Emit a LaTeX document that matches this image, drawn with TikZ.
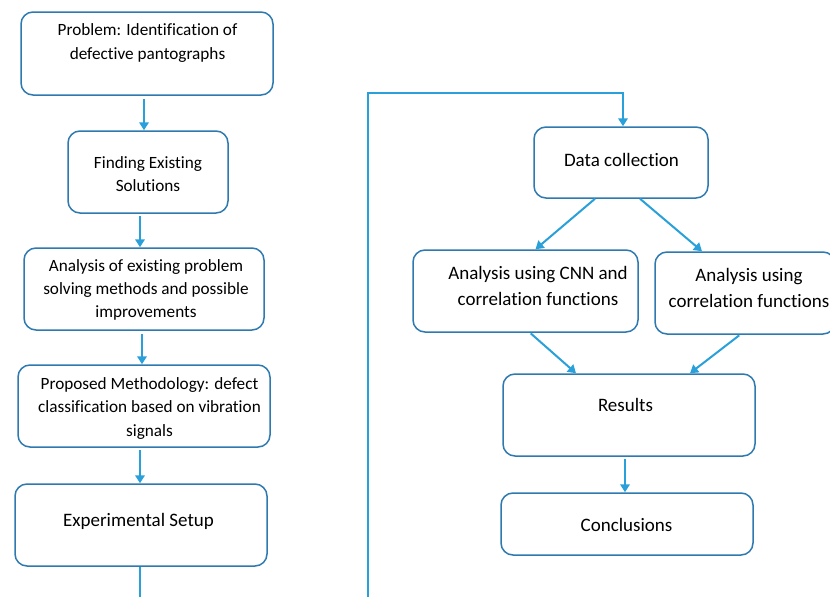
\documentclass[tikz,border=0pt]{standalone}
\usepackage{fontspec}
\setmainfont[Ligatures=NoCommon]{Carlito}
\usetikzlibrary{arrows.meta}
\definecolor{boxc}{HTML}{2E7AB0}
\definecolor{arrc}{HTML}{2AA0DA}
\tikzset{
  box/.style={draw=boxc, line width=1.5pt, rounded corners=12pt, fill=white, inner sep=0pt},
  txt/.style={align=center, font=\fontsize{17.2}{23.3}\selectfont, text=black, inner sep=0pt},
  txtl/.style={align=center, font=\fontsize{19}{26}\selectfont, text=black, inner sep=0pt},
  arr/.style={draw=arrc, line width=2pt, -{Triangle[length=8pt,width=9.5pt]}},
  ln/.style={draw=arrc, line width=2pt},
}
\begin{document}
\begin{tikzpicture}[x=1pt,y=-1pt]
\useasboundingbox (0,0) rectangle (830,597);
\clip (0,0) rectangle (830,597);
\fill[white] (0,0) rectangle (830,597);
% left column boxes
\node[box, minimum width=252pt, minimum height=83pt] (b1) at (147,53.5) {};
\node[txt] (t1) at (147.5,43) {Problem: Identification of\\defective pantographs};
\node[box, minimum width=160pt, minimum height=82pt] (b2) at (148,172) {};
\node[txt] (t2) at (148,174) {Finding Existing\\Solutions};
\node[box, minimum width=240pt, minimum height=82pt] (b3) at (144,289) {};
\node[txt] (t3) at (146,290) {Analysis of existing problem\\solving methods and possible\\improvements};
\node[box, minimum width=252pt, minimum height=82pt] (b4) at (144,406) {};
\node[txt] (t4) at (149.5,408.5) {Proposed Methodology: defect\\classification based on vibration\\signals};
\node[box, minimum width=252pt, minimum height=82pt] (b5) at (141,525) {};
\node[txtl] (t5) at (138.5,521) {Experimental Setup};
% right column boxes
\node[box, minimum width=174pt, minimum height=71pt] (dc) at (621,162.5) {};
\node[txtl] (tdc) at (621.5,160) {Data collection};
\node[box, minimum width=225pt, minimum height=82pt] (cnn) at (525.5,291) {};
\node[txtl] (tcnn) at (538,286) {Analysis using CNN and\\correlation functions};
\node[box, minimum width=180pt, minimum height=82pt] (cor) at (745,293) {};
\node[txtl] (tcor) at (749,288) {Analysis using\\correlation functions};
\node[box, minimum width=252pt, minimum height=82pt] (res) at (629,415) {};
\node[txtl] (tres) at (625.5,405) {Results};
\node[box, minimum width=252pt, minimum height=62pt] (con) at (627,524) {};
\node[txtl] (tcon) at (626.5,525) {Conclusions};
% helper coordinates
\coordinate (x1) at (144,0);
\coordinate (x2) at (140,0);
\coordinate (x3) at (142,0);
\coordinate (x4) at (140,0);
\coordinate (x5) at (140,597);
\coordinate (x6) at (623,0);
\coordinate (x7) at (625,0);
\coordinate (lb) at (368,597);
\coordinate (lt) at (368,93);
% left arrows
\draw[arr, shorten <=3pt] (b1.south -| x1) -- (b2.north -| x1);
\draw[arr, shorten <=2pt] (b2.south -| x2) -- (b3.north -| x2);
\draw[arr, shorten <=3pt] (b3.south -| x3) -- (b4.north -| x3);
\draw[arr, shorten <=2pt] (b4.south -| x4) -- (b5.north -| x4);
\draw[ln] (b5.south -| x5) -- (x5);
% loop line
\draw[arr] (lb) -- (lt) -| (dc.north -| x6);
% diagonal arrows
\draw[arr] ([xshift=-26pt]dc.south) -- ([xshift=10pt]cnn.north);
\draw[arr] ([xshift=19pt]dc.south) -- ([xshift=-43pt]cor.north);
\draw[arr, shorten <=1pt] ([xshift=4.5pt]cnn.south) -- ([xshift=-53pt]res.north);
\draw[arr, shorten <=1pt] ([xshift=-5pt]cor.south) -- ([xshift=61pt]res.north);
\draw[arr, shorten <=2pt] (res.south -| x7) -- (con.north -| x7);
\end{tikzpicture}
\end{document}
